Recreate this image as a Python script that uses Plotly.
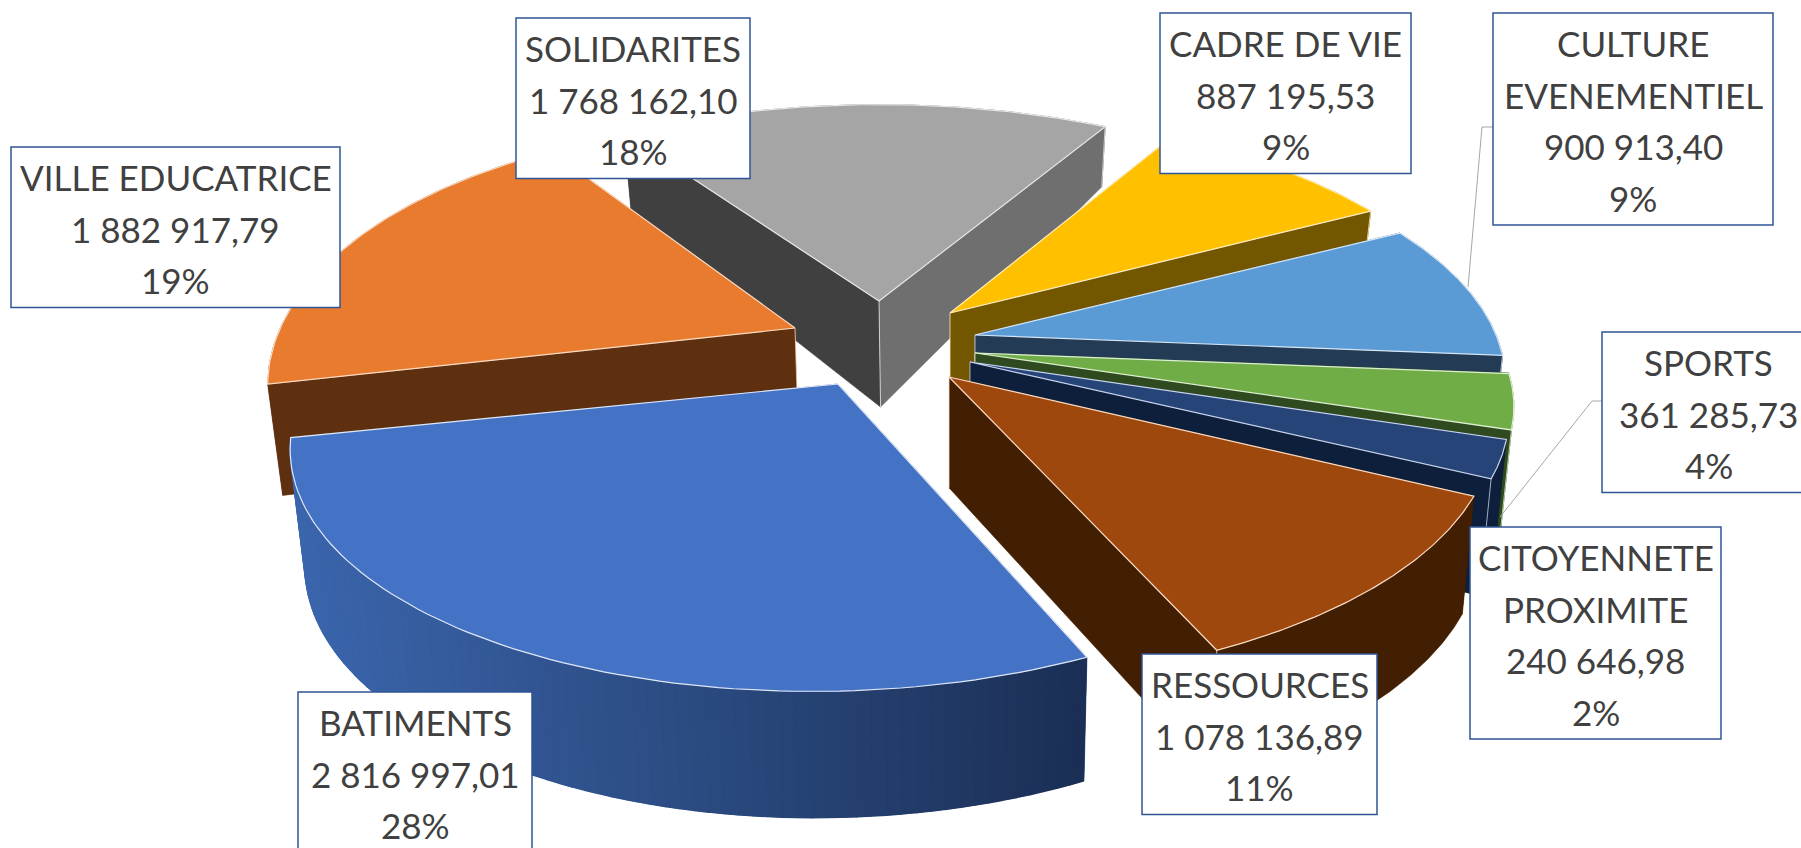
import math
import numpy as np
import plotly.graph_objects as go

# ---- data (clockwise from the first slice) ----
categories = ["CADRE DE VIE", "CULTURE EVENEMENTIEL", "SPORTS", "CITOYENNETE PROXIMITE",
              "RESSOURCES", "BATIMENTS", "VILLE EDUCATRICE", "SOLIDARITES"]
values = [887195.53, 900913.40, 361285.73, 240646.98,
          1078136.89, 2816997.01, 1882917.79, 1768162.10]
label_names = [["CADRE DE VIE"], ["CULTURE", "EVENEMENTIEL"], ["SPORTS"], ["CITOYENNETE", "PROXIMITE"],
               ["RESSOURCES"], ["BATIMENTS"], ["VILLE EDUCATRICE"], ["SOLIDARITES"]]

# ---- styles ----
top_colors = ["#ffc000", "#5b9bd5", "#70ad47", "#264478", "#9e480e", "#4472c4", "#e97b2f", "#a5a5a5"]
edge_colors = ["#fff0c0", "#d6e6f5", "#dcefd0", "#c8d4ea", "#fbdcc4", "#dfe7f6", "#fbdcc4", "#e6e6e6"]
side_colors = ["#735600", "#233b55", "#2f4a1e", "#0e1f3c", "#421e02", "#2f5090", "#5f3010", "#404040"]
end_face_colors = ["#735600", "#233b55", "#2f4a1e", "#0e1f3c", "#421e02", "#3b66ad", "#5f3010", "#6f6f6f"]
start_face_colors = ["#735600", "#233b55", "#2f4a1e", "#0e1f3c", "#421e02", "#1b2f55", "#5f3010", "#404040"]
apex_x = [950, 975, 975, 970, 949, 838, 795, 879]
apex_y = [313, 335, 353, 362, 377, 384, 328, 301]
radius_x = [0.98, 0.974, 0.983, 0.983, 0.995, 0.99, 0.962, 1.005]
radius_y = [1.01, 1.01, 0.983, 0.99, 1.01, 1.01, 1.058, 1.005]
skew = [0, 0.03, 0, 0, 0.01, 0.039, 0, 0]
end_edge = [True, True, True, True, True, False, True, True]
draw_order = [7, 6, 0, 1, 2, 3, 4, 5]
box_x0 = [1160, 1493, 1602, 1470, 1142, 298, 11, 516]
box_x1 = [1411, 1773, 1815, 1721, 1377, 532, 340, 750]
box_y0 = [13, 13, 332, 527, 654, 692, 147, 18]
leaders = [([1493, 1482, 1468], [127, 127, 287]), ([1602, 1592, 1500], [401, 401, 517])]

START_DEG = 30.0
RX, RY, PERSP = 535.0, 238.0, 0.218
LINE_PITCH = 51.7
TOTAL = sum(values)


def fmt(v):
    s = f"{v:,.2f}"
    return s.replace(",", "\u00a0").replace(".", ",")


def project(theta, ax, ay, sx, sy, sk):
    u, v = np.sin(theta), np.cos(theta)
    w = 1 + PERSP * v
    return ax + sx * RX * (u + sk * v) / w, ay - sy * RY * v / w


def lower(x, y):
    d = np.interp(y, [127, 300, 380, 500, 650, 700], [68, 106, 111, 118, 123, 127])
    d = d - 0.035 * (x - 880) * np.clip((300 - y) / 170, 0, 1)
    return x - 0.022 * (x - 950), y + d


def mix(c0, c1, t):
    a = [int(c0[i:i + 2], 16) for i in (1, 3, 5)]
    b = [int(c1[i:i + 2], 16) for i in (1, 3, 5)]
    return "#%02x%02x%02x" % tuple(round(a[i] + (b[i] - a[i]) * t) for i in range(3))


fig = go.Figure()


def poly(xs, ys, color, width=0.6):
    fig.add_trace(go.Scatter(x=list(xs), y=list(ys), mode="lines", fill="toself", fillcolor=color,
                             line=dict(color=color, width=width), hoverinfo="skip", showlegend=False))


def stroke(xs, ys, color, width=1.2):
    fig.add_trace(go.Scatter(x=list(xs), y=list(ys), mode="lines",
                             line=dict(color=color, width=width), hoverinfo="skip", showlegend=False))


angles = np.radians(START_DEG + np.cumsum([0] + values) / TOTAL * 360)

for i in draw_order:
    t = np.linspace(angles[i], angles[i + 1], 80)
    ax, ay = apex_x[i], apex_y[i]
    xa, ya = project(t, ax, ay, radius_x[i], radius_y[i], skew[i])
    xb, yb = lower(xa, ya)
    x0b, y0b = lower(np.array([ax], float), np.array([ay], float))
    back_facing = math.cos((angles[i] + angles[i + 1]) / 2) > 0

    def draw_arc():
        poly(np.r_[xa, xb[::-1]], np.r_[ya, yb[::-1]], side_colors[i])
        if categories[i] == "BATIMENTS":
            for k in range(len(t) - 1):
                frac = ((xa[k] + xa[k + 1]) / 2 - xa.min()) / (xa.max() - xa.min())
                col = mix("#3b66ad", "#1b2f55", frac)
                poly([xa[k], xa[k + 1], xb[k + 1], xb[k]], [ya[k], ya[k + 1], yb[k + 1], yb[k]], col, 1.4)

    if back_facing:
        draw_arc()
    faces = [
        (ay + ya[0], [ax, xa[0], xb[0], x0b[0]], [ay, ya[0], yb[0], y0b[0]], start_face_colors[i]),
        (ay + ya[-1], [ax, xa[-1], xb[-1], x0b[0]], [ay, ya[-1], yb[-1], y0b[0]], end_face_colors[i]),
    ]
    for _, fx, fy, col in sorted(faces, key=lambda f: f[0]):
        poly(fx, fy, col)
    if not back_facing:
        draw_arc()
    if end_edge[i]:
        stroke([xa[-1], xb[-1]], [ya[-1], yb[-1]], edge_colors[i], 0.8)
    stroke([ax, x0b[0]], [ay, y0b[0]], edge_colors[i], 0.8)
    poly(np.r_[ax, xa], np.r_[ay, ya], top_colors[i])
    stroke(np.r_[ax, xa, ax], np.r_[ay, ya, ay], edge_colors[i])

for lx, ly in leaders:
    stroke(lx, ly, "#a6a6a6", 1)

shapes = []
annotations = []
for i, names in enumerate(label_names):
    lines = names + [fmt(values[i]), f"{round(values[i] / TOTAL * 100)}%"]
    y1 = box_y0[i] + 57 + LINE_PITCH * (len(lines) - 1)
    shapes.append(dict(type="rect", xref="x", yref="y", x0=box_x0[i], x1=box_x1[i], y0=box_y0[i],
                       y1=y1, line=dict(color="#2f5597", width=1.5), fillcolor="white", layer="above"))
    cx = (box_x0[i] + box_x1[i]) / 2
    for j, txt in enumerate(lines):
        annotations.append(dict(x=cx, y=box_y0[i] + 30 + LINE_PITCH * j, xref="x", yref="y", text=txt,
                                showarrow=False, xanchor="center", yanchor="middle",
                                font=dict(family="Lato, Carlito, sans-serif", size=35, color="#404040")))

fig.update_layout(
    width=1801, height=848, margin=dict(l=0, r=0, t=0, b=0),
    paper_bgcolor="white", plot_bgcolor="white", showlegend=False,
    xaxis=dict(range=[0, 1801], visible=False, fixedrange=True),
    yaxis=dict(range=[848, 0], visible=False, fixedrange=True),
    shapes=shapes, annotations=annotations,
)
fig.write_html("out.html", config={"displayModeBar": False},
               post_script="document.body.style.margin='0';document.body.style.overflow='hidden';")
